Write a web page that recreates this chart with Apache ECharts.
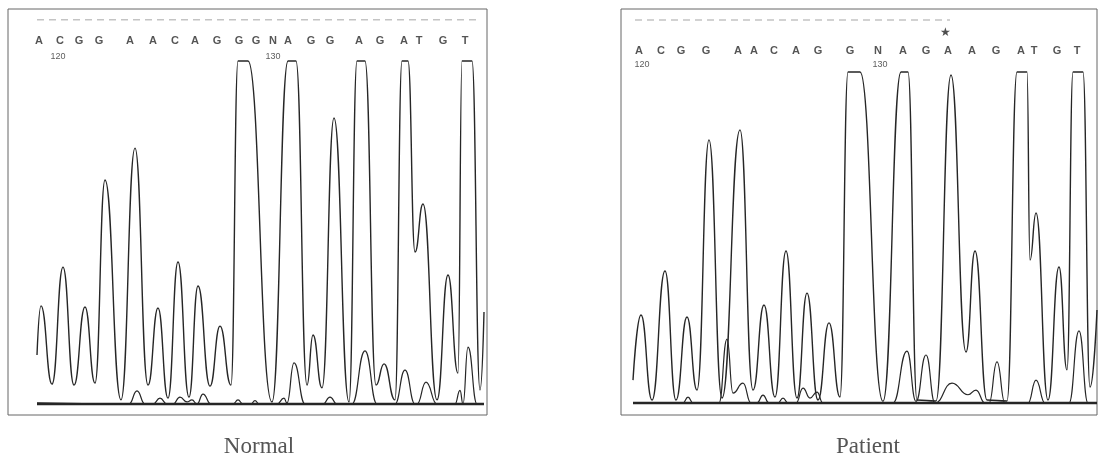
<!DOCTYPE html>
<html><head><meta charset="utf-8">
<script src="https://cdn.jsdelivr.net/npm/echarts@6/dist/echarts.min.js"></script>
<style>html,body{margin:0;padding:0;background:#fff}#c{width:1099px;height:462px}</style>
</head><body><div id="c"></div>
<script>
// ---- Normal panel (x = scan position, y = signal intensity, 100 = saturated) ----
const normalMain = [[0,14.3],[4,28.6],[15,5.8],[26,39.9],[37,5.5],[48,28.3],[58,6.1],[68,65.3],[84,1.2],[98,74.6],[111,5.5],[121,28.0],[131,1.7],[141,41.4],[152,2.0],[161,34.4],[173,5.2],[183,22.7],[194,5.5],[201,100],[211,100],[235,0.6],[251,100],[259,100],[270,5.5],[276,20.1],[285,4.7],[297,83.4],[312,0.6],[320,100],[328,100],[339,5.5],[347,11.7],[358,1.2],[365,100],[371,100],[378,44.3],[386,58.3],[400,1.2],[411,37.6],[421,9.0],[425,100],[435,100],[443,4.1],[447,26.8]];
const normalMinor = [[0,0.3],[92,0],[100,3.8],[108,0],[116,0],[123,1.7],[130,0],[136,0],[143,2.0],[150,0.6],[155,1.2],[160,0],[166,2.9],[174,0],[196,0],[201,1.2],[206,0],[214,0],[218,1.0],[222,0],[240,0],[247,1.7],[250,0.3],[257,12.0],[268,0],[286,0],[293,2.0],[300,0],[315,0],[328,15.5],[340,0],[358,0],[368,9.9],[378,0],[380,0],[389,6.4],[400,0],[418,0],[423,4.0],[426,0],[431,16.6],[440,0],[447,0]];
const normalBaseline = [[0,0],[447,0]];
const normalBases = ['A','C','G','G','A','A','C','A','G','G','G','N','A','G','G','A','G','A','T','G','T'];
const normalBasePos = [2,23,42,62,93,116,138,158,180,202,219,236,251,274,293,322,343,367,382,406,428];
const normalTicks = ['120','130'];
const normalTickPos = [21,236];

// ---- Patient panel ----
const patientMain = [[0,6.9],[8,26.6],[19,0.9],[32,39.9],[43,0.9],[54,26.0],[64,3.9],[76,79.5],[89,1.5],[107,82.5],[120,3.9],[131,29.6],[142,1.8],[153,45.9],[164,1.5],[174,33.2],[185,0.9],[196,24.2],[207,1.8],[215,100],[227,100],[250,0.5],[268,100],[275,100],[284,0.9],[303,0.6],[318,99.1],[333,15.4],[342,45.9],[354,0.9],[374,0.6],[384,100],[394,100],[397,43.2],[403,57.4],[415,0.9],[426,41.1],[434,10.0],[440,100],[450,100],[457,4.8],[464,28.1]];
const patientMinor = [[0,0],[50,0],[55,1.8],[60,0],[86,0],[94,19.3],[100,3.0],[110,6.0],[118,0],[124,0],[130,2.4],[136,0],[145,0],[150,1.5],[155,0],[163,0],[170,4.5],[177,1.5],[184,3.3],[190,0],[260,0],[274,15.7],[283,0.5],[293,14.5],[302,0],[319,6.0],[335,2.5],[343,3.9],[352,0],[356,0],[364,12.4],[372,0],[395,0],[403,6.9],[412,0],[436,0],[446,21.8],[455,0],[464,0]];
const patientBaseline = [[0,0],[464,0]];
const patientBases = ['A','C','G','G','A','A','C','A','G','G','N','A','G','A','A','G','A','T','G','T'];
const patientBasePos = [6,28,48,73,105,121,141,163,185,217,245,270,293,315,339,363,388,401,424,444];
const patientTicks = ['120','130'];
const patientTickPos = [9,247];
const mutationPos = 312;

const lineCol = '#262626';
function traceSeries(data, gi, w) {
  return {type:'line', xAxisIndex:gi, yAxisIndex:gi, data, showSymbol:false, symbol:'none',
    smooth:0.5, smoothMonotone:'x', lineStyle:{color:lineCol, width:w}, silent:true, clip:true, z:3};
}
function textSeries(pos, txt, y, gi, size, weight, col) {
  return {type:'scatter', xAxisIndex:gi, yAxisIndex:gi, symbolSize:0, silent:true, z:5,
    data: pos.map((p,i)=>[p,y,txt[i]]),
    label:{show:true, position:'inside', formatter:p=>p.data[2], color:col||'#222', fontSize:size,
      fontFamily:'Liberation Sans', fontWeight: weight||'normal'}};
}
function dashSeries(data, gi) {
  return {type:'line', xAxisIndex:gi, yAxisIndex:gi, data, symbol:'none', silent:true,
    lineStyle:{color:'#c4c4c4', width:1.5, type:[7,5]}};
}

const option = {
  animation:false,
  backgroundColor:'#fff',
  title:[
    {text:'Normal', left:254, top:430, textAlign:'center', textStyle:{fontFamily:'Liberation Serif', fontSize:23, fontWeight:'normal', color:'#555'}},
    {text:'Patient', left:863, top:430, textAlign:'center', textStyle:{fontFamily:'Liberation Serif', fontSize:23, fontWeight:'normal', color:'#555'}}
  ],
  grid:[
    {left:8, top:9, width:479, height:406, show:true, borderColor:'#666', borderWidth:1, backgroundColor:'transparent'},
    {left:621, top:9, width:476, height:406, show:true, borderColor:'#666', borderWidth:1, backgroundColor:'transparent'}
  ],
  xAxis:[
    {type:'value', gridIndex:0, min:-29, max:450, show:false},
    {type:'value', gridIndex:1, min:-12, max:464, show:false}
  ],
  yAxis:[
    {type:'value', gridIndex:0, min:-3.207, max:115.16, show:false},
    {type:'value', gridIndex:1, min:-3.625, max:119.03, show:false}
  ],
  series:[
    dashSeries([[0,112],[443,112]],0),
    traceSeries(normalBaseline,0,2.6),
    traceSeries(normalMinor,0,1.2),
    traceSeries(normalMain,0,1.4),
    textSeries(normalBasePos, normalBases, 105.8, 0, 11, 'bold', '#2a2a2a'),
    textSeries(normalTickPos, normalTicks, 101.2, 0, 9, 'normal', '#333'),
    dashSeries([[2,115.7],[317,115.7]],1),
    traceSeries(patientBaseline,1,2.6),
    traceSeries(patientMinor,1,1.2),
    traceSeries(patientMain,1,1.4),
    textSeries(patientBasePos, patientBases, 106.5, 1, 11, 'bold', '#2a2a2a'),
    textSeries(patientTickPos, patientTicks, 102.3, 1, 9, 'normal', '#333'),
    textSeries([mutationPos], ['★'], 112, 1, 12, 'normal', '#222')
  ]
};
echarts.init(document.getElementById('c'), null, {renderer:'canvas'}).setOption(option);
</script></body></html>
